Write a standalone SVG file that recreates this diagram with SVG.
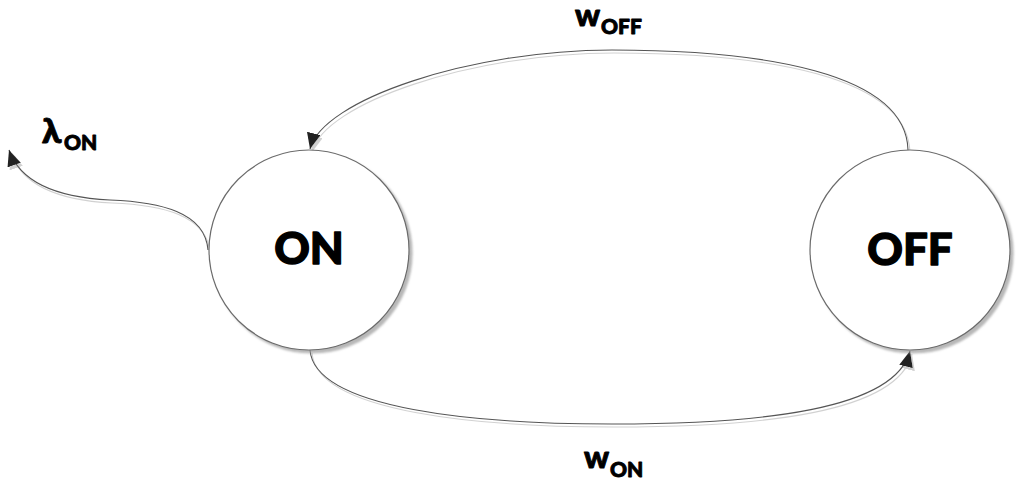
<svg xmlns="http://www.w3.org/2000/svg" width="1024" height="487" viewBox="0 0 1024 487">
<style>
.state{fill:#fff;stroke:#6b6b6b;stroke-width:1.2}
.edge{fill:none;stroke:#555;stroke-width:1.1}
.lbl{font-family:Lato,"Open Sans","DejaVu Sans",sans-serif;font-weight:900;fill:#000;stroke:#000;stroke-width:0.9;stroke-linejoin:round}
.big{font-size:44px;text-anchor:middle;stroke-width:1.3}
.main{font-size:31px}
.lam{font-size:35px}
.sub{font-size:21px}
</style>
<defs>
<filter id="shadowC" x="-10%" y="-10%" width="125%" height="125%">
<feDropShadow dx="3" dy="3" stdDeviation="1.3" flood-color="#999" flood-opacity="0.7"/>
</filter>
<filter id="shadowL" x="-10%" y="-10%" width="125%" height="125%">
<feDropShadow dx="2" dy="3" stdDeviation="0.6" flood-color="#ccc" flood-opacity="0.9"/>
</filter>
<marker id="arrow" viewBox="0 0 16 14" refX="16" refY="7" markerWidth="16" markerHeight="14" markerUnits="userSpaceOnUse" orient="auto">
<path d="M0,0 L16,7 L0,14 z" fill="#222"/>
</marker>
</defs>

<g id="connectors" filter="url(#shadowL)">
<path id="e-off-on" class="edge" d="M908,150 C906,72 760,50 612,50 C470,50 322,100 310,149" marker-end="url(#arrow)"/>
<path id="e-on-off" class="edge" d="M310,350 C315,410 480,424 612,424 C760,424 895,410 910,351" marker-end="url(#arrow)"/>
<path id="e-on-out" class="edge" d="M208,250 C205,212 160,202 110,200 C70,198 22,188 9,150" marker-end="url(#arrow)"/>
</g>

<g id="node-on">
<circle class="state" cx="309" cy="250" r="100" filter="url(#shadowC)"/>
<text class="lbl big" x="309" y="264">ON</text>
</g>

<g id="node-off">
<circle class="state" cx="910" cy="250" r="100" filter="url(#shadowC)"/>
<text class="lbl big" x="910" y="265">OFF</text>
</g>

<g id="labels">
<text class="lbl"><tspan class="lam" x="42" y="143">λ</tspan><tspan class="sub" x="64" y="150">ON</tspan></text>
<text class="lbl"><tspan class="main" x="575" y="26">w</tspan><tspan class="sub" x="601" y="34">OFF</tspan></text>
<text class="lbl"><tspan class="main" x="584" y="468">w</tspan><tspan class="sub" x="610" y="477">ON</tspan></text>
</g>
</svg>
